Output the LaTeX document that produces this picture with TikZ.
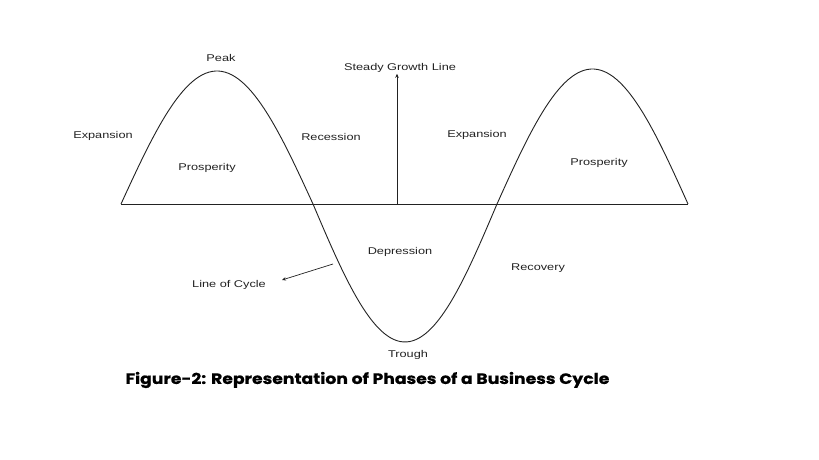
\documentclass[tikz,border=0pt]{standalone}
\usepackage{fontspec}
\usetikzlibrary{arrows.meta}
\newfontfamily\labfont[FakeStretch=1.3]{Liberation Sans}
\newfontfamily\capfont[FakeStretch=1.15,FakeBold=0.6]{Poppins}
\definecolor{ink}{HTML}{222222}
\begin{document}
\begin{tikzpicture}[x=1pt,y=1pt,
  lab/.style={font=\labfont\fontsize{9.8}{11}\selectfont, text=ink, inner sep=1pt},
  wave/.style={draw=ink, line width=0.9pt},
  axisline/.style={draw=ink, line width=0.9pt},
  pointer/.style={draw=ink, line width=0.7pt, -{Stealth[length=4pt,width=3.5pt]}}]
\useasboundingbox (0,0) rectangle (819,460);
% wave
\draw[wave] plot[domain=0:180, samples=60] ({121+1.06667*\x},{256+133*sin(\x)});
\draw[wave] plot[domain=0:180, samples=60] ({313+1.02222*\x},{256-138*sin(\x)});
\draw[wave] plot[domain=0:180, samples=60] ({497+1.06111*\x},{256+135*sin(\x)});
% axis
\coordinate (a0) at (121,256);
\coordinate (a1) at (688,256);
\draw[axisline] (a0) -- (a1);
% labels
\node[lab] (peak) at (221,402) {Peak};
\node[lab] (expL) at (103,324) {Expansion};
\node[lab] (prosL) at (207,292) {Prosperity};
\node[lab] (rec) at (331,323) {Recession};
\node[lab] (expR) at (477,325) {Expansion};
\node[lab] (prosR) at (599,297) {Prosperity};
\node[lab] (sg) at (400,392) {Steady Growth Line};
\node[lab] (dep) at (400,208) {Depression};
\node[lab] (recov) at (538,192) {Recovery};
\node[lab] (loc) at (229,175) {Line of Cycle};
\node[lab] (tr) at (408,105) {Trough};
% steady growth arrow
\coordinate (sg0) at (397,256);
\draw[pointer] (sg0) -- (sg0 |- sg.south);
% line of cycle arrow
\coordinate (lc) at (333,196);
\coordinate (lcend) at (282,180);
\draw[pointer] (lc) -- (lcend);
% caption
\node[font=\capfont\bfseries\fontsize{15}{17}\selectfont, text=black, inner sep=0pt] (cap) at (367.5,80) {Figure-2: Representation of Phases of a Business Cycle};
\end{tikzpicture}
\end{document}
